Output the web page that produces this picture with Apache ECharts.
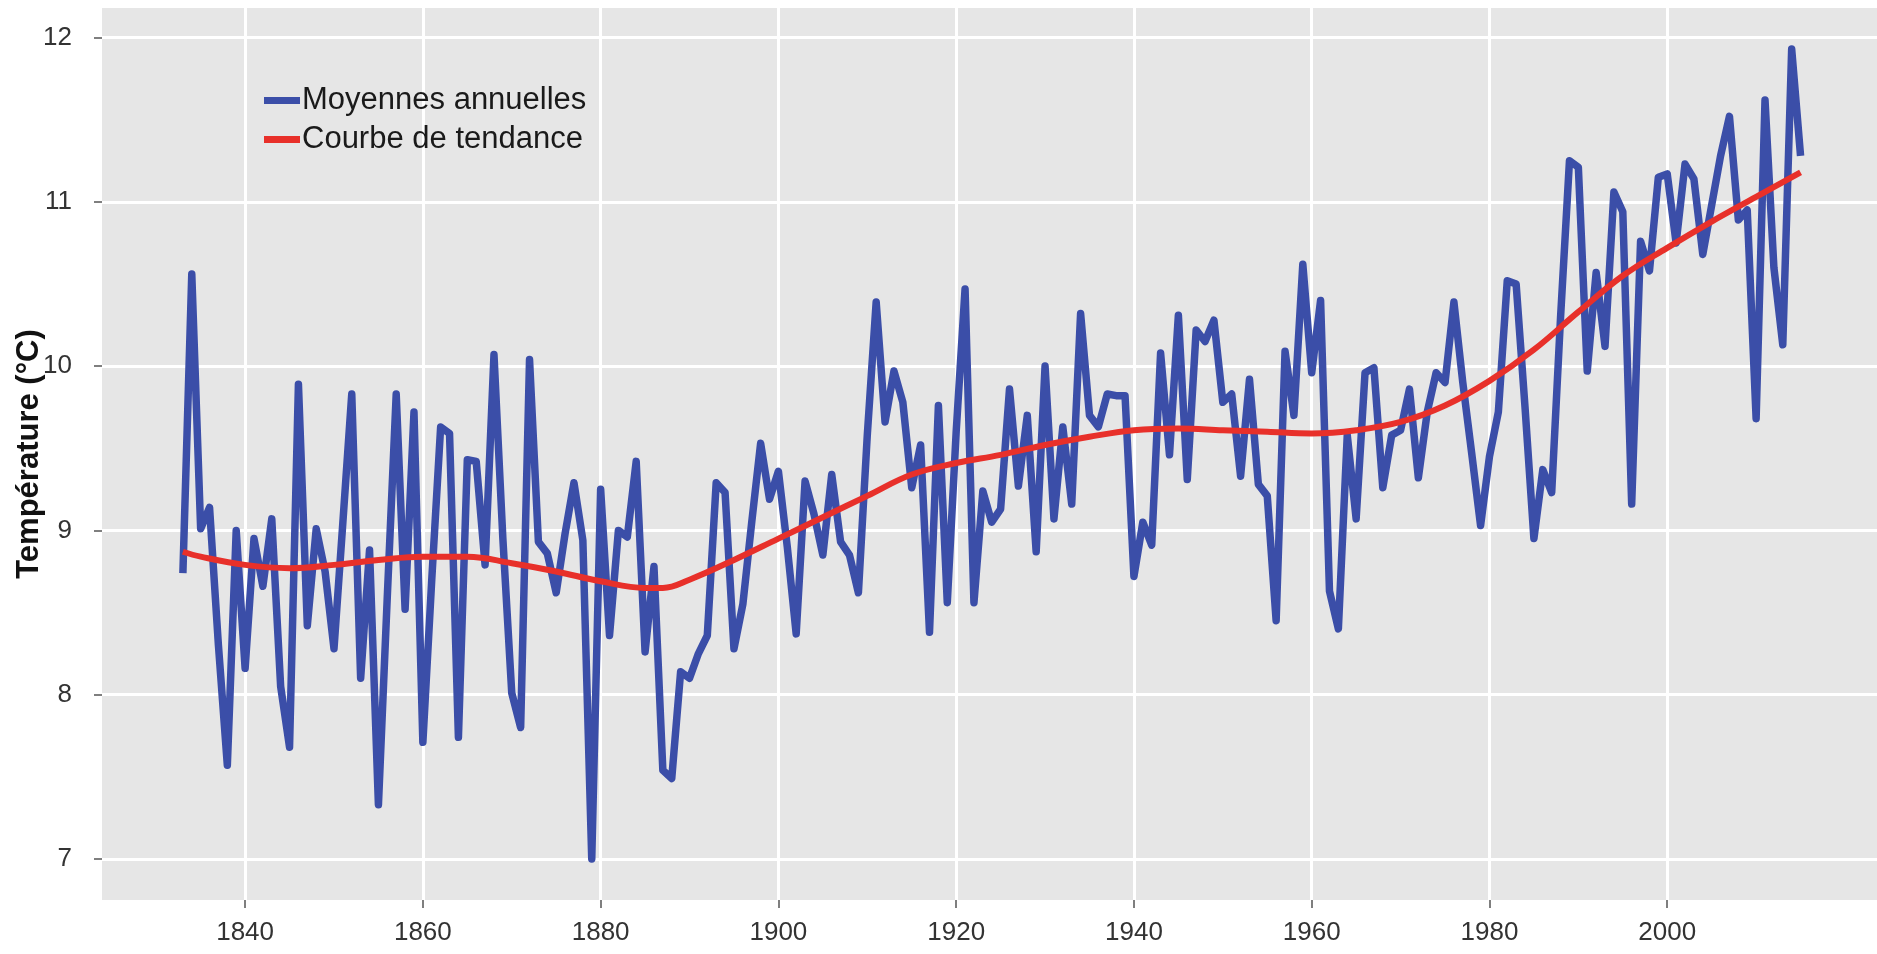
<!DOCTYPE html>
<html>
<head>
<meta charset="utf-8">
<script src="https://cdn.jsdelivr.net/npm/echarts@6/dist/echarts.min.js"></script>
<style>
  html, body { margin: 0; padding: 0; background: #ffffff; }
  #chart { width: 1877px; height: 954px; }
</style>
</head>
<body>
<div id="chart"></div>
<script>
// ---- Data ----
const firstYear = 1833;
const annualMeans = [
  // 1833-1839
  8.74, 10.56, 9.01, 9.14, 8.30, 7.57, 9.00,
  // 1840s
  8.16, 8.95, 8.66, 9.07, 8.05, 7.68, 9.89, 8.42, 9.01, 8.75,
  // 1850s
  8.28, 9.05, 9.83, 8.10, 8.88, 7.33, 8.60, 9.83, 8.52, 9.72,
  // 1860s
  7.71, 8.70, 9.63, 9.59, 7.74, 9.43, 9.42, 8.79, 10.07, 8.95,
  // 1870s
  8.01, 7.80, 10.04, 8.93, 8.86, 8.62, 8.98, 9.29, 8.94, 7.00,
  // 1880s
  9.25, 8.36, 9.00, 8.96, 9.42, 8.26, 8.78, 7.54, 7.49, 8.14,
  // 1890s
  8.10, 8.25, 8.36, 9.29, 9.23, 8.28, 8.55, 9.05, 9.53, 9.19,
  // 1900s
  9.36, 8.90, 8.37, 9.30, 9.10, 8.85, 9.34, 8.93, 8.85, 8.62,
  // 1910s
  9.58, 10.39, 9.66, 9.97, 9.78, 9.26, 9.52, 8.38, 9.76, 8.56,
  // 1920s
  9.60, 10.47, 8.56, 9.24, 9.05, 9.13, 9.86, 9.27, 9.70, 8.87,
  // 1930s
  10.00, 9.07, 9.63, 9.16, 10.32, 9.70, 9.63, 9.83, 9.82, 9.82,
  // 1940s
  8.72, 9.05, 8.91, 10.08, 9.46, 10.31, 9.31, 10.22, 10.15, 10.28,
  // 1950s
  9.78, 9.83, 9.33, 9.92, 9.28, 9.21, 8.45, 10.09, 9.70, 10.62,
  // 1960s
  9.96, 10.40, 8.63, 8.40, 9.58, 9.07, 9.96, 9.99, 9.26, 9.58,
  // 1970s
  9.61, 9.86, 9.32, 9.72, 9.96, 9.90, 10.39, 9.90, 9.47, 9.03,
  // 1980s
  9.45, 9.72, 10.52, 10.50, 9.75, 8.95, 9.37, 9.23, 10.30, 11.25,
  // 1990s
  11.21, 9.97, 10.57, 10.12, 11.06, 10.94, 9.16, 10.76, 10.58, 11.15,
  // 2000s
  11.17, 10.75, 11.23, 11.14, 10.68, 10.98, 11.28, 11.52, 10.89, 10.95,
  // 2010-2015
  9.68, 11.62, 10.60, 10.13, 11.93, 11.28
];

const trendYears = [1833, 1835, 1840, 1845, 1850, 1855, 1860, 1865, 1870, 1875,
  1880, 1885, 1887, 1890, 1895, 1900, 1905, 1910, 1915, 1920, 1925, 1930, 1935,
  1940, 1945, 1950, 1955, 1960, 1965, 1970, 1975, 1980, 1985, 1990, 1995, 2000,
  2005, 2010, 2015];
const trendValues = [8.87, 8.84, 8.79, 8.77, 8.79, 8.82, 8.84, 8.84, 8.80, 8.75,
  8.69, 8.65, 8.65, 8.70, 8.82, 8.95, 9.08, 9.21, 9.34, 9.41, 9.46, 9.52, 9.57,
  9.61, 9.62, 9.61, 9.60, 9.59, 9.61, 9.66, 9.76, 9.91, 10.10, 10.33, 10.55, 10.72,
  10.88, 11.03, 11.18];

const xTickValues = [1840, 1860, 1880, 1900, 1920, 1940, 1960, 1980, 2000];
const yTickValues = [7, 8, 9, 10, 11, 12];

const seriesNames = ['Moyennes annuelles', 'Courbe de tendance'];
const yAxisTitle = 'Température (°C)';

// ---- Build series data ----
const annualData = annualMeans.map((v, i) => [firstYear + i, v]);
const trendData = trendYears.map((y, i) => [y, trendValues[i]]);

const chart = echarts.init(document.getElementById('chart'), null, { renderer: 'canvas' });

const option = {
  animation: false,
  backgroundColor: '#ffffff',
  grid: {
    left: 102, right: 0, top: 8, bottom: 54,
    show: true, backgroundColor: '#e6e6e6', borderWidth: 0,
    containLabel: false, outerBoundsMode: 'none'
  },
  legend: {
    data: seriesNames,
    orient: 'vertical',
    left: 259, top: 80,
    itemWidth: 36, itemHeight: 7, itemGap: 8,
    icon: 'rect',
    textStyle: { fontSize: 31, color: '#1a1a1a', fontFamily: 'Liberation Sans, Arial, sans-serif', padding: [0, 0, 0, -3] }
  },
  xAxis: {
    type: 'value',
    min: 1823.9, max: 2023.6,
    axisLine: { show: false },
    axisTick: { show: true, length: 8, lineStyle: { color: '#555', width: 1.5 }, customValues: xTickValues },
    axisLabel: {
      customValues: xTickValues,
      formatter: (v) => String(v),
      margin: 20, fontSize: 26, color: '#333333',
      fontFamily: 'Liberation Sans Narrow, Liberation Sans, Arial, sans-serif'
    },
    splitLine: { show: true, lineStyle: { color: '#ffffff', width: 3 } }
  },
  yAxis: {
    type: 'value',
    min: 6.75, max: 12.18,
    name: yAxisTitle,
    nameLocation: 'middle',
    nameGap: 57,
    nameMoveOverlap: false,
    nameTextStyle: { fontSize: 31, fontWeight: 'bold', color: '#111', fontFamily: 'Liberation Sans Narrow, Liberation Sans, Arial, sans-serif' },
    axisLine: { show: false },
    axisTick: { show: true, length: 8, lineStyle: { color: '#555', width: 1.5 }, customValues: yTickValues },
    axisLabel: {
      customValues: yTickValues,
      formatter: (v) => String(v),
      margin: 30, fontSize: 26, color: '#333333',
      fontFamily: 'Liberation Sans, Arial, sans-serif'
    },
    splitLine: { show: true, lineStyle: { color: '#ffffff', width: 3 } }
  },
  series: [
    {
      name: seriesNames[0],
      type: 'line',
      data: annualData,
      showSymbol: false,
      color: '#3b4ea8',
      lineStyle: { color: '#3b4ea8', width: 7.5, join: 'round' },
      z: 2
    },
    {
      name: seriesNames[1],
      type: 'line',
      data: trendData,
      showSymbol: false,
      smooth: 0.4,
      color: '#e8302a',
      lineStyle: { color: '#e8302a', width: 6 },
      z: 3
    }
  ]
};

chart.setOption(option);
</script>
</body>
</html>
